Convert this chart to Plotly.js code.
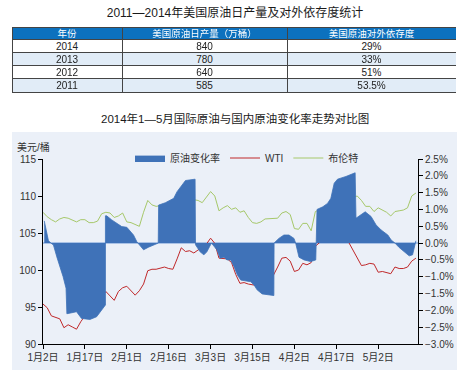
<!DOCTYPE html>
<html><head><meta charset="utf-8">
<script src="https://cdn.plot.ly/plotly-3.0.1.min.js"></script>
<style>
html,body{margin:0;padding:0;background:#fff}
#wrap{position:relative;width:470px;height:380px;overflow:hidden}
#c{position:absolute;left:0;top:0;width:470px;height:380px}
#t{position:absolute;left:12px;top:27px;transform-origin:0 0;transform:scale(0.375)}
</style>
</head><body><div id="wrap"><div id="c"></div><div id="t"></div></div>
<script>
// ---- table data ----
const tableHeaders = ['年份', '美国原油日产量（万桶）', '美国原油对外依存度'];
const tableYears = ['2014', '2013', '2012', '2011'];
const tableOutput = ['840', '780', '640', '585'];
const tableDependence = ['29%', '33%', '51%', '53.5%'];

// ---- chart data ----
const tickLabels = ['1月2日','1月17日','2月1日','2月16日','3月3日','3月15日','4月2日','4月17日','5月2日'];
const tickIndex = [0,10,20,30,40,50,60,70,80];
const wti = [95.4,94.9,93.8,93.6,93.4,92.2,92.6,92.3,92.0,93.0,
  93.8,94.3,94.8,95.5,96.3,97.1,96.5,95.9,97.1,97.6,
  97.8,97.2,96.6,97.2,98.1,99.9,100.1,100.1,100.3,100.4,
  100.2,100.1,101.5,103.0,102.5,102.6,102.3,102.7,103.0,103.5,
  104.3,103.6,101.6,101.6,101.5,101.0,99.4,98.2,98.3,98.1,
  98.0,97.9,97.8,98.2,98.8,99.3,100.4,101.6,101.7,101.2,
  99.8,100.0,100.9,100.7,101.0,103.2,103.7,103.8,104.0,104.1,
  104.3,104.2,104.1,103.7,102.6,101.7,100.6,100.7,100.9,100.8,
  99.7,99.8,99.6,99.5,100.4,100.2,100.2,100.4,101.2,101.6];
const brent = [107.8,107.2,106.8,106.5,106.9,107.1,107.0,106.8,106.5,106.8,
  106.8,106.4,106.4,106.6,107.6,107.8,107.7,107.1,107.3,107.7,
  106.5,106.4,106.2,105.9,107.8,109.4,108.8,108.6,108.7,108.9,
  109.0,109.2,109.3,109.4,109.5,109.5,109.5,109.4,109.1,109.8,
  110.6,110.0,108.0,108.4,108.7,108.2,108.4,107.8,108.0,107.1,
  106.4,106.3,106.5,106.9,106.9,107.0,107.0,107.7,107.9,107.5,
  105.6,105.5,106.3,106.3,105.3,107.9,108.1,108.3,108.5,108.7,
  109.0,109.3,109.5,109.7,109.9,110.0,109.4,108.6,108.6,107.9,
  108.4,108.1,107.8,107.3,107.9,108.0,108.1,108.4,110.0,110.4];
// change rate (%) read at positions along the same day index
const rateX = [0.3,0.9,1.3,1.9,2.5,3.3,4.1,4.8,5.5,5.7,6.9,8.0,9.2,11.2,12.8,14.0,14.9,14.9,
  15.2,16.4,18.0,18.8,20.0,20.8,21.6,22.4,24.0,25.2,27.5,27.6,29.2,31.2,32.0,34.0,36.3,36.4,
  37.5,38.4,39.1,40.2,41.5,42.3,43.2,43.9,44.8,45.6,46.4,47.2,49.6,50.4,51.1,52.3,53.5,55.1,55.15,
  56.3,57.5,58.7,59.9,60.3,61.1,62.3,63.9,65.1,65.4,66.8,67.9,68.7,69.5,70.3,72.3,73.9,74.5,74.7,
  75.9,76.9,78.3,79.5,80.7,82.3,83.1,84.0,85.0,86.2,87.4,88.2,88.6,89.0];
const rateY = [0.66,0.35,0.07,0.0,-0.06,-0.41,-0.70,-1.00,-1.34,-2.10,-2.07,-2.04,-2.24,-2.27,-2.19,-1.99,-1.84,0.81,
  0.81,0.69,0.54,0.49,0.47,0.34,0.24,0.04,-0.20,-0.12,0.0,1.13,1.20,1.33,1.53,1.86,1.90,-0.05,
  -0.26,-0.35,-0.26,0.0,-0.20,-0.45,-0.42,-0.50,-0.50,-0.70,-0.95,-1.10,-1.15,-1.25,-1.39,-1.51,-1.54,-1.56,0.0,
  0.14,0.24,0.24,0.14,0.0,-0.42,-0.50,-0.55,-0.50,1.00,1.08,1.18,1.33,1.78,1.90,1.98,2.05,2.09,0.74,
  0.84,0.93,0.79,0.54,0.39,0.24,0.09,0.0,-0.13,-0.26,-0.38,-0.35,-0.13,0.07];

const dayIndex = wti.map((_, i) => i);
const FONT = '"Liberation Sans", "Noto Sans CJK SC", sans-serif';
const W = 470, H = 380;
const px = v => v / W, py = v => 1 - v / H;

// ---- table (drawn at larger size, scaled down by CSS) ----
const S = 0.375;
const tableTrace = {type:'table', domain:{x:[0,1], y:[0,1]},
  columnwidth:[110,165,169],
  header:{values:tableHeaders, height:12/S, align:'center',
    fill:{color:'#0C71BE'}, line:{color:'#444', width:1/S},
    font:{family:FONT, size:9.5/S, color:'#ffffff'}},
  cells:{values:[tableYears, tableOutput, tableDependence], height:13.3/S, align:'center',
    fill:{color:[['#ffffff','#E1ECF7','#ffffff','#E1ECF7']]}, line:{color:'#444', width:1/S},
    font:{family:FONT, size:10/S, color:'#222'}}};
Plotly.newPlot('t', [tableTrace], {width:444/S, height:66/S, autosize:false,
  margin:{l:0, r:0, t:0, b:0}, paper_bgcolor:'rgba(0,0,0,0)'}, {displayModeBar:false, staticPlot:true});

// ---- chart ----
const traces = [
  {type:'scatter', mode:'lines', name:'WTI', x:dayIndex, y:wti, xaxis:'x', yaxis:'y',
   line:{color:'#C0282A', width:1}, legendrank:2},
  {type:'scatter', mode:'lines', name:'布伦特', x:dayIndex, y:brent, xaxis:'x', yaxis:'y',
   line:{color:'#A6C86A', width:1}, legendrank:3},
  {type:'scatter', mode:'lines', name:'原油变化率', x:rateX, y:rateY, xaxis:'x', yaxis:'y2',
   fill:'tozeroy', fillcolor:'#3F72B8', line:{color:'#3F72B8', width:0.8}, legendrank:1}
];

const layout = {
  width:W, height:H, autosize:false,
  margin:{l:0, r:0, t:0, b:0},
  paper_bgcolor:'#ffffff', plot_bgcolor:'rgba(0,0,0,0)',
  font:{family:FONT, size:10, color:'#333'},
  title:{text:'2011—2014年美国原油日产量及对外依存度统计', x:0.5, xanchor:'center',
    y:py(13), yanchor:'middle', yref:'container', font:{family:FONT, size:12, color:'#1a1a1a'}},
  shapes:[{type:'rect', xref:'paper', yref:'paper', x0:px(12), x1:px(457), y0:py(370), y1:py(132),
    fillcolor:'#EBF0F8', line:{width:0}, layer:'below'}],
  annotations:[
    {text:'2014年1—5月国际原油与国内原油变化率走势对比图', xref:'paper', yref:'paper',
     x:0.5, y:py(118), xanchor:'center', yanchor:'middle', showarrow:false,
     font:{family:FONT, size:11.5, color:'#1a1a1a'}},
    {text:'美元/桶', xref:'paper', yref:'paper', x:px(15), y:py(147), xanchor:'left', yanchor:'middle',
     showarrow:false, font:{family:FONT, size:10, color:'#333'}}
  ],
  showlegend:true,
  legend:{orientation:'h', x:px(130), y:py(158), xanchor:'left', yanchor:'middle',
    bgcolor:'rgba(0,0,0,0)', itemwidth:30, font:{family:FONT, size:10, color:'#333'}},
  xaxis:{domain:[px(43), px(418)], range:[0, 89.5], tickvals:tickIndex, ticktext:tickLabels,
    showline:true, linecolor:'#000', linewidth:1, ticks:'outside', ticklen:4, tickcolor:'#000',
    showgrid:false, zeroline:false, anchor:'y', tickfont:{size:10, color:'#333'}},
  yaxis:{domain:[py(344), py(159)], range:[90,115], dtick:5, tick0:90, showline:true,
    linecolor:'#000', linewidth:1, ticks:'outside', ticklen:4, tickcolor:'#000',
    showgrid:false, zeroline:false, tickfont:{size:10, color:'#333'}},
  yaxis2:{overlaying:'y', side:'right', anchor:'x', range:[-3,2.5], dtick:0.5, tick0:0,
    tickformat:'.1f', ticksuffix:'%', showline:true, linecolor:'#000', linewidth:1,
    ticks:'outside', ticklen:4, tickcolor:'#000', showgrid:false,
    zeroline:true, zerolinecolor:'#A9C2E6', zerolinewidth:1.5, tickfont:{size:10, color:'#333'}}
};

Plotly.newPlot('c', traces, layout, {displayModeBar:false, staticPlot:true});
</script>
</body></html>
